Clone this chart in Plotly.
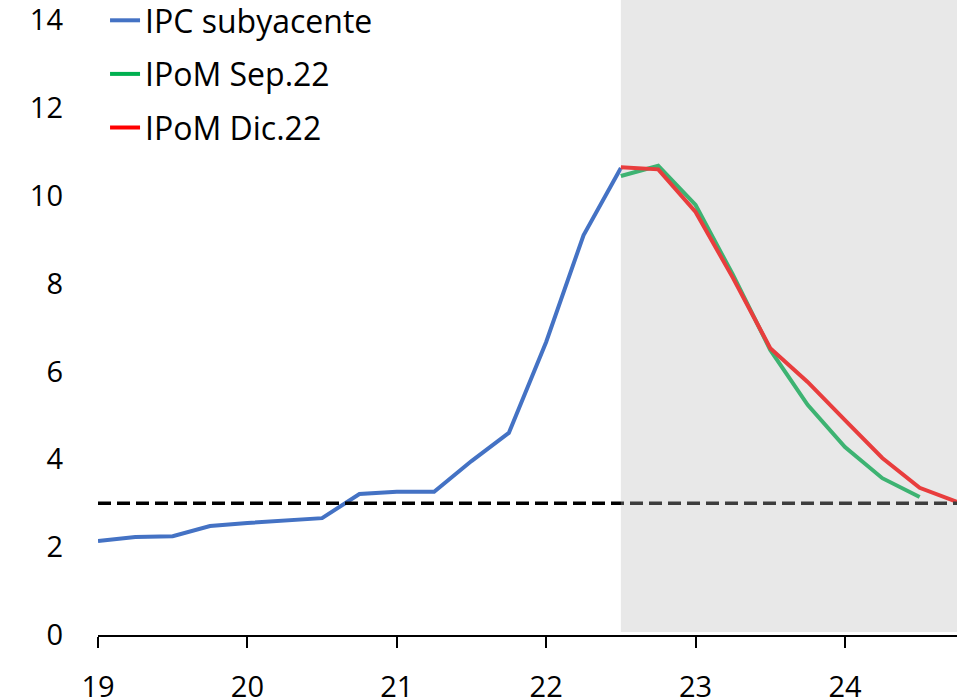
import plotly.graph_objects as go

# Quarterly time axis (year + fraction)
x_hist = [19.0, 19.25, 19.5, 19.75, 20.0, 20.25, 20.5, 20.75, 21.0, 21.25,
          21.5, 21.75, 22.0, 22.25, 22.5]
ipc_subyacente = [2.14, 2.23, 2.25, 2.48, 2.55, 2.60, 2.66, 3.21, 3.26, 3.26,
                  3.96, 4.60, 6.67, 9.10, 10.63]

x_sep = [22.5, 22.75, 23.0, 23.25, 23.5, 23.75, 24.0, 24.25, 24.5]
ipom_sep22 = [10.45, 10.68, 9.79, 8.20, 6.49, 5.24, 4.28, 3.57, 3.14]

x_dic = [22.5, 22.75, 23.0, 23.25, 23.5, 23.75, 24.0, 24.25, 24.5, 24.75]
ipom_dic22 = [10.65, 10.60, 9.63, 8.13, 6.53, 5.76, 4.89, 4.03, 3.35, 3.03]

meta = 3.0
x_range = [19, 24.75]
y_range = [0, 14]
forecast_start = 22.5
x_ticks = [19, 20, 21, 22, 23, 24]
y_ticks = [0, 2, 4, 6, 8, 10, 12, 14]

FONT = "Open Sans"

fig = go.Figure()

fig.add_trace(go.Scatter(x=x_hist, y=ipc_subyacente, mode="lines",
                         name="IPC subyacente", legendgroup="a",
                         line=dict(color="#4472C4", width=4)))
fig.add_trace(go.Scatter(x=x_sep, y=ipom_sep22, mode="lines",
                         name="IPoM Sep.22", legendgroup="b",
                         line=dict(color="#00B050", width=4)))
fig.add_trace(go.Scatter(x=x_dic, y=ipom_dic22, mode="lines",
                         name="IPoM Dic.22", legendgroup="c",
                         line=dict(color="#FF0000", width=4)))
# 3% target line, drawn on top of the series
fig.add_trace(go.Scatter(x=x_range, y=[meta, meta], mode="lines",
                         line=dict(color="black", width=3.5, dash="13px,6px"),
                         showlegend=False, hoverinfo="skip"))

# Projection period shading, laid over the lines with transparency
fig.add_shape(type="rect", xref="x", yref="paper",
              x0=forecast_start, x1=x_range[1], y0=0.005, y1=1.04,
              fillcolor="rgba(185,185,185,0.33)", line=dict(width=0),
              layer="above")

fig.update_layout(
    width=961, height=698,
    margin=dict(l=98, r=4, t=20, b=63, autoexpand=False),
    paper_bgcolor="white", plot_bgcolor="white",
    font=dict(family=FONT, size=29, color="black"),
    showlegend=True,
    legend=dict(x=0.1093, y=1.0439, xref="container", yref="paper",
                xanchor="left", yanchor="top",
                bgcolor="rgba(0,0,0,0)", tracegroupgap=9,
                font=dict(size=32)),
    xaxis=dict(range=x_range, tickvals=x_ticks, ticktext=[str(t) for t in x_ticks],
               showgrid=False, zeroline=False, showline=True,
               linecolor="black", linewidth=2, automargin=False,
               ticks="outside", ticklen=11, tickwidth=2, tickcolor="black",
               ticklabelstandoff=14, ticklabeloverflow="allow"),
    yaxis=dict(range=y_range, tickvals=y_ticks, showgrid=False,
               zeroline=False, showline=False, ticks="", automargin=False,
               ticklabelstandoff=34, ticklabeloverflow="allow"),
)

fig.write_html("out.html")
